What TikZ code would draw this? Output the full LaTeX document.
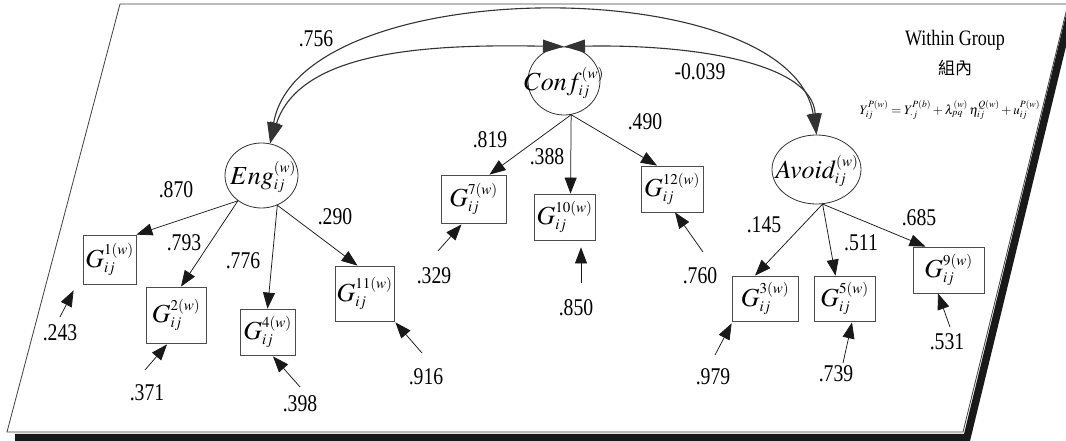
\documentclass[tikz,border=0pt]{standalone}
\usepackage{graphicx}
\usepackage{mathptmx}
\usepackage[no-math]{fontspec}
\setmainfont{Liberation Serif}[FakeStretch=0.82]
\newfontfamily\cjk{Noto Sans CJK TC}
\DeclareMathSizes{26}{26}{15}{11}
\usetikzlibrary{arrows.meta,calc,shapes.geometric}
\begin{document}
\begin{tikzpicture}[x=1pt,y=-1pt,
  frame/.style={draw=black!75, line width=0.8pt},
  shadowline/.style={draw=black!90, line width=7.5pt, line join=miter},
  lat/.style={draw=black!80, ellipse, inner sep=0pt, line width=0.8pt},
  obs/.style={draw=black!70, rectangle, inner sep=0pt, line width=0.8pt, font=\fontsize{26}{30}\selectfont},
  vlbl/.style={inner sep=0pt, font=\fontsize{26}{30}\selectfont},
  lbl/.style={inner sep=0pt, font=\fontsize{24}{28}\selectfont},
  load/.style={draw=black!90, line width=0.75pt, -{Triangle[length=16pt,width=12pt]}},
  err/.style={draw=black!90, line width=0.75pt, -{Triangle[length=16pt,width=12pt]}},
  cov/.style={draw=black!80, line width=1.1pt, {Triangle[length=21pt,width=13pt]}-{Triangle[length=21pt,width=13pt]}},
]
\useasboundingbox (0,0) rectangle (1066,441);
\fill[white] (0,0) rectangle (1066,441);

% frame
\draw[frame] (120,4) -- (1068,4) -- (963,432) -- (7,432) -- cycle;
\draw[shadowline] (15,437.5) -- (967,437.5) -- (1072,6);

% latent variables
\node[lat, minimum width=73pt, minimum height=65pt] (Eng) at (261.5,175.5) {};
\node[vlbl] (EngT) at (263,177) {$Eng_{ij}^{(w)}$};
\node[lat, minimum width=72pt, minimum height=68pt] (Conf) at (564,81) {};
\node[vlbl] (ConfT) at (564,83) {$Conf_{ij}^{(w)}$};
\node[lat, minimum width=89pt, minimum height=69pt] (Avoid) at (816.5,169.5) {};
\node[vlbl] (AvoidT) at (817,171) {$Avoid_{ij}^{(w)}$};

% observed variables
\node[obs, minimum width=53pt, minimum height=49pt] (G1) at (109.5,259.5) {$G_{ij}^{1(w)}$};
\node[obs, minimum width=60pt, minimum height=56pt] (G2) at (176,315) {$G_{ij}^{2(w)}$};
\node[obs, minimum width=55pt, minimum height=46pt] (G4) at (267.5,332) {$G_{ij}^{4(w)}$};
\node[obs, minimum width=59pt, minimum height=55pt] (G11) at (364.5,293.5) {$G_{ij}^{11(w)}$};
\node[obs, minimum width=65pt, minimum height=48pt] (G7) at (473.5,199) {$G_{ij}^{7(w)}$};
\node[obs, minimum width=61pt, minimum height=46pt] (G10) at (564.5,217) {$G_{ij}^{10(w)}$};
\node[obs, minimum width=62pt, minimum height=46pt] (G12) at (672,189) {$G_{ij}^{12(w)}$};
\node[obs, minimum width=66pt, minimum height=45pt] (G3) at (765,298.5) {$G_{ij}^{3(w)}$};
\node[obs, minimum width=61pt, minimum height=45pt] (G5) at (844.5,298.5) {$G_{ij}^{5(w)}$};
\node[obs, minimum width=71pt, minimum height=46pt] (G9) at (948.5,270) {$G_{ij}^{9(w)}$};

% covariances
\draw[cov] (Eng.75) .. controls (300,-29) and (790,-29) .. (Avoid.north);
\draw[cov] (Conf.north) .. controls (430,44) and (300,50) .. (Eng.75);
\draw[cov] (Conf.north) .. controls (690,44) and (812,62) .. (Avoid.north);

% loadings
\draw[load] (Eng.227) -- (G1.north east);
\draw[load] (Eng.227) -- ($(G2.north)+(5,0)$);
\draw[load] (Eng.298) -- (G4.north);
\draw[load] (Eng.298) -- ($(G11.north)+(-7,0)$);
\draw[load] (Conf.282) -- ($(G7.north)+(16,0)$);
\draw[load] (Conf.282) -- ($(G10.north)+(6,0)$);
\draw[load] (Conf.282) -- ($(G12.north)+(-15,0)$);
\draw[load] (Avoid.280) -- ($(G3.north)+(-10,0)$);
\draw[load] (Avoid.280) -- ($(G5.north)+(-9,0)$);
\draw[load] (Avoid.280) -- ($(G9.north)+(-23,0)$);

% error terms
\coordinate (t1) at (60,317);
\coordinate (t2) at (145,370);
\coordinate (t4) at (300,387);
\coordinate (t11) at (422,353);
\coordinate (t7) at (438,251);
\coordinate (t10) at (581,283);
\coordinate (t12) at (703,252);
\coordinate (t3) at (715,355);
\coordinate (t5) at (843,363);
\coordinate (t9) at (950,327);
\draw[err] (t1) -- ($(G1.south west)+(-9,6)$);
\draw[err] (t2) -- ($(G2.south)+(-9,1)$);
\draw[err] (t4) -- ($(G4.south)+(5.5,1)$);
\draw[err] (t11) -- ($(G11.south east)+(1,1)$);
\draw[err] (t7) -- ($(G7.south)+(-12,1)$);
\draw[err] (t10) -- ($(G10.south)+(16.5,7)$);
\draw[err] (t12) -- ($(G12.south)+(3,0)$);
\draw[err] (t3) -- ($(G3.south west)+(0,2)$);
\draw[err] (t5) -- ($(G5.south)+(7.5,1)$);
\draw[err] (t9) -- ($(G9.south)+(-10.5,0)$);

% coefficient labels
\node[lbl] (c756) at (316,39) {.756};
\node[lbl] (c039) at (700,72) {-0.039};
\node[lbl] (c870) at (176,190) {.870};
\node[lbl] (c793) at (184,243) {.793};
\node[lbl] (c776) at (243,261) {.776};
\node[lbl] (c290) at (335,217) {.290};
\node[lbl] (c819) at (490,140) {.819};
\node[lbl] (c388) at (547,157) {.388};
\node[lbl] (c490) at (645,122) {.490};
\node[lbl] (c145) at (764,225) {.145};
\node[lbl] (c511) at (861,243) {.511};
\node[lbl] (c685) at (919,218) {.685};
\node[lbl] (c243) at (60,333) {.243};
\node[lbl] (c371) at (147,393) {.371};
\node[lbl] (c398) at (300,404) {.398};
\node[lbl] (c916) at (426,377) {.916};
\node[lbl] (c329) at (434,276) {.329};
\node[lbl] (c850) at (576,308) {.850};
\node[lbl] (c760) at (700,276) {.760};
\node[lbl] (c979) at (713,377) {.979};
\node[lbl] (c739) at (836,374) {.739};
\node[lbl] (c531) at (947,342) {.531};

% title and formula
\node[inner sep=0pt, anchor=base, font=\fontsize{22}{26}\selectfont] (wg) at (955,46) {Within Group};
\node[inner sep=0pt, font=\cjk\fontsize{17}{20}\selectfont] (zn) at (955,68) {組內};
\node[inner sep=0pt, font=\fontsize{13}{16}\selectfont] (eq) at (950,110) {$Y_{ij}^{P(w)}=Y_{\cdot j}^{P(b)}+\lambda_{pq}^{(w)}\,\eta_{ij}^{Q(w)}+u_{ij}^{P(w)}$};
\end{tikzpicture}
\end{document}
